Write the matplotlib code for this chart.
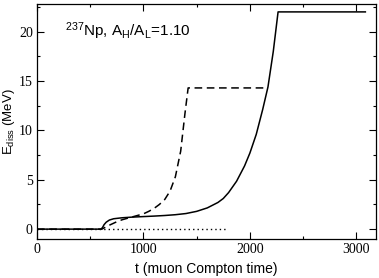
import matplotlib
matplotlib.use("Agg")
import matplotlib.pyplot as plt

# Solid curve
t_solid = [0, 600, 615, 630, 650, 680, 720, 800, 900, 1000, 1100, 1200, 1300, 1400,
           1500, 1600, 1700, 1750, 1800, 1875, 1950, 2000, 2060, 2120, 2170, 2220, 2265, 3085]
e_solid = [0, 0, 0.15, 0.45, 0.7, 0.92, 1.05, 1.15, 1.22, 1.27, 1.32, 1.38, 1.46, 1.58,
           1.8, 2.15, 2.7, 3.1, 3.7, 4.85, 6.4, 7.7, 9.6, 12.1, 14.4, 18.0, 22.0, 22.0]

# Dashed curve
t_dash = [0, 610, 630, 660, 700, 750, 800, 900, 1000, 1050, 1100, 1150, 1200, 1250,
          1300, 1350, 1390, 1420, 2145]
e_dash = [0, 0, 0.12, 0.3, 0.5, 0.75, 0.95, 1.25, 1.55, 1.8, 2.1, 2.5, 3.0, 3.85,
          5.3, 7.9, 11.7, 14.3, 14.3]

# Dotted zero line
t_dot = [0, 1780]
e_dot = [0, 0]

plt.rcParams["font.family"] = ["Liberation Sans", "DejaVu Sans"]
plt.rcParams["mathtext.default"] = "regular"

fig = plt.figure(figsize=(3.79, 2.78), dpi=100)
ax = fig.add_axes([37 / 379, 39 / 278, 339 / 379, 235 / 278])

ax.plot(t_dot, e_dot, color="black", lw=1.0, linestyle=(0, (1, 2.2)))
ax.plot(t_dash, e_dash, color="black", lw=1.1, dashes=(5, 3))
ax.plot(t_solid, e_solid, color="black", lw=1.1)

ax.set_xlim(0, 3185)
ax.set_ylim(-1, 22.8)
ax.set_xticks([0, 1000, 2000, 3000])
ax.set_xticks([500, 1500, 2500], minor=True)
ax.set_yticks([0, 5, 10, 15, 20])
ax.set_yticks([2.5, 7.5, 12.5, 17.5, 22.5], minor=True)
ax.tick_params(which="both", direction="in", top=True, right=True, width=0.8)
ax.tick_params(which="major", length=5, labelsize=10, pad=3)
ax.tick_params(which="minor", length=2.5)
for lab in ax.get_xticklabels() + ax.get_yticklabels():
    lab.set_fontfamily("Liberation Serif")
for sp in ax.spines.values():
    sp.set_linewidth(0.9)

ax.set_xlabel("t (muon Compton time)", fontsize=10, labelpad=4)
ax.set_ylabel("E$_{diss}$ (MeV)", fontsize=9.5)
ax.yaxis.set_label_coords(-20 / 339, 0.5)

ax.text(262, 19.6, "$^{237}$Np, A$_H$/A$_L$=1.10", fontsize=11, va="baseline")

fig.savefig("out.png", dpi=100)
